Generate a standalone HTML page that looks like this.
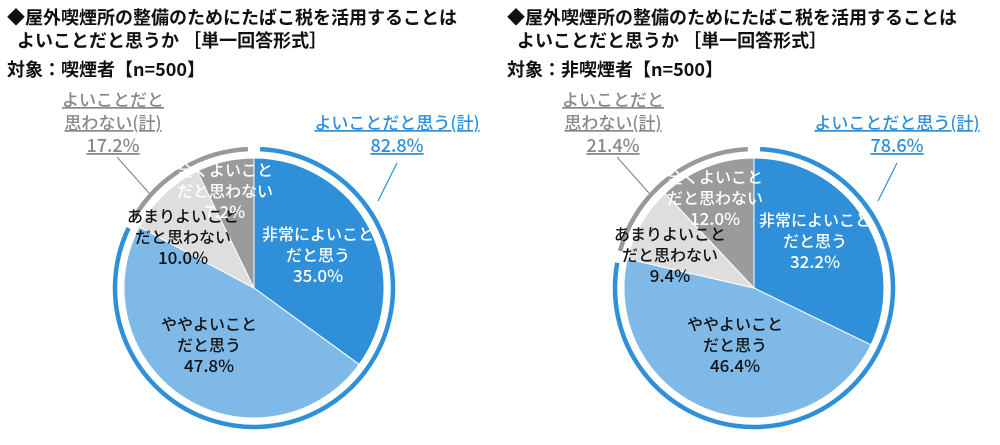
<!DOCTYPE html>
<html><head><meta charset="utf-8"><style>
body{margin:0;background:#fff;width:1000px;height:440px;overflow:hidden}
svg{font-family:"Noto Sans CJK JP","Liberation Sans",sans-serif}
</style></head><body>
<svg id="c" width="1000" height="440"></svg>
<script>
const categories=["非常によいことだと思う","ややよいことだと思う","あまりよいことだと思わない","全くよいことだと思わない"];
const smokerValues=[35.0,47.8,10.0,7.2];
const nonSmokerValues=[32.2,46.4,9.4,12.0];
const panelTargets=["喫煙者","非喫煙者"];
const sliceColors=["#2f8fd8","#7eb9e8","#dedede","#9b9b9b"];
const NS="http://www.w3.org/2000/svg";
const svg=document.getElementById('c');
function mk(t,a,p){const e=document.createElementNS(NS,t);for(const k in a)e.setAttribute(k,a[k]);(p||svg).appendChild(e);return e;}
function pt(cx,cy,r,pct){const a=pct/100*2*Math.PI;return [cx+r*Math.sin(a),cy-r*Math.cos(a)];}
function arc(cx,cy,r,a0,a1){const p0=pt(cx,cy,r,a0),p1=pt(cx,cy,r,a1);const l=(a1-a0)>50?1:0;return `M${p0[0]},${p0[1]} A${r},${r} 0 ${l} 1 ${p1[0]},${p1[1]}`;}
function txt(g,x,y,s,o){const t=mk('text',Object.assign({x:x,y:y,'font-size':15,'text-anchor':'middle','font-weight':500},o||{}),g);t.textContent=s;return t;}
function panel(ox,vals,target,idx){
  const g=mk('g',{});
  
  
  const t1=txt(g,ox+7,24,"◆屋外喫煙所の整備のためにたばこ税を活用することは",{'text-anchor':'start','font-size':18,'font-weight':'bold',fill:'#111'});
  
  txt(g,ox+17,47,"よいことだと思うか ［単一回答形式］",{'text-anchor':'start','font-size':18,'font-weight':'bold',fill:'#111'});
  const t3=txt(g,ox+7,76,"対象：" +target+"【n=500】",{'text-anchor':'start','font-size':18,'font-weight':'bold',fill:'#111'});
  
  const cx=ox+254,cy=288,r=130,rr=139;
  let acc=0;
  vals.forEach((v,i)=>{
    const p0=pt(cx,cy,r,acc),p1=pt(cx,cy,r,acc+v);
    const s=mk('path',{d:`M${cx},${cy} L${p0[0]},${p0[1]} A${r},${r} 0 ${v>50?1:0} 1 ${p1[0]},${p1[1]} Z`,fill:sliceColors[i],stroke:'#fff','stroke-width':1},g);
    
    
    acc+=v;
  });
  const good=vals[0]+vals[1];
  const b=mk('path',{d:arc(cx,cy,rr,0.7,good-0.7),fill:'none',stroke:'#2f8fd8','stroke-width':4.5},g);
  
  const gr=mk('path',{d:arc(cx,cy,rr,good+0.7,99.3),fill:'none',stroke:'#999','stroke-width':4.5},g);
  
  const names=[["非常によいこと","だと思う"],["ややよいこと","だと思う"],["あまりよいこと","だと思わない"],["全くよいこと","だと思わない"]];
  const fills=['#fff','#111','#111','#fff'];
  const pos=idx===0?[[318,240],[209,330],[183,222],[225,176]]:[[315,226],[235,330],[170,240],[215,183]];
  names.forEach((n,i)=>{
    const x=ox+pos[i][0],y=pos[i][1];
    const tg=mk('g',{},g);
    
    
    txt(tg,x,y,n[0],{fill:fills[i],'font-size':16});txt(tg,x,y+21,n[1],{fill:fills[i],'font-size':16});
    txt(tg,x,y+42,vals[i].toFixed(1)+"%",{fill:fills[i],'font-size':17});
  });
  const bad=vals[2]+vals[3];
  const gl=mk('g',{},g);
  
  txt(gl,ox+113,106,"よいことだと",{fill:'#888','font-size':17,'text-decoration':'underline'});
  txt(gl,ox+113,129,"思わない(計)",{fill:'#888','font-size':17,'text-decoration':'underline'});
  txt(gl,ox+113,152,bad.toFixed(1)+"%",{fill:'#888','font-size':18,'text-decoration':'underline'});
  const bl=mk('g',{},g);
  
  txt(bl,ox+397,129,"よいことだと思う(計)",{fill:'#2f8fd8','font-size':17,'text-decoration':'underline'});
  txt(bl,ox+397,152,good.toFixed(1)+"%",{fill:'#2f8fd8','font-size':18,'text-decoration':'underline'});
  mk('line',{x1:ox+117,y1:157,x2:ox+149,y2:193,stroke:'#888','stroke-width':1.2},g);
  mk('line',{x1:ox+397,y1:163,x2:ox+378,y2:201,stroke:'#2f8fd8','stroke-width':1.2},g);
}
panel(0,smokerValues,panelTargets[0],0);
panel(500,nonSmokerValues,panelTargets[1],1);
</script>
</body></html>
